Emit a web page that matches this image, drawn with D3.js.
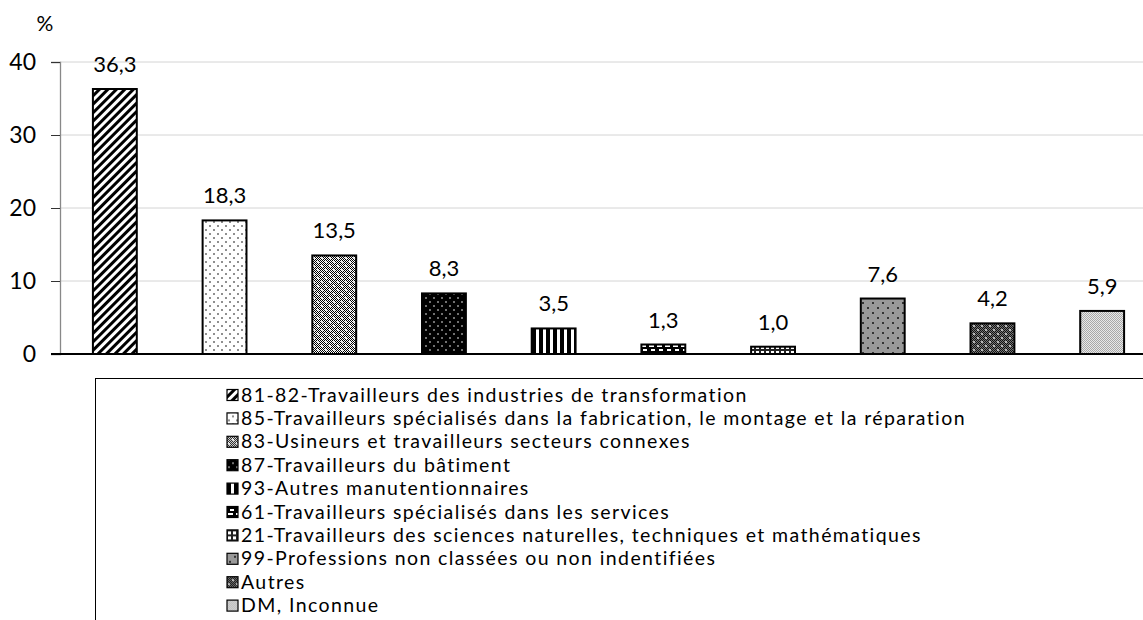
<!DOCTYPE html>
<html>
<head>
<meta charset="utf-8">
<script src="https://cdn.jsdelivr.net/npm/d3@7"></script>
<style>
  body { margin: 0; background: #fff; }
  svg { display: block; font-family: Lato, "Open Sans", sans-serif; }
</style>
</head>
<body>
<svg id="chart"></svg>
<script>
const width = 1143;
const height = 620;

const categories = [
  "81-82-Travailleurs des industries de transformation",
  "85-Travailleurs spécialisés dans la fabrication, le montage et la réparation",
  "83-Usineurs et travailleurs secteurs connexes",
  "87-Travailleurs du bâtiment",
  "93-Autres manutentionnaires",
  "61-Travailleurs spécialisés dans les services",
  "21-Travailleurs des sciences naturelles, techniques et mathématiques",
  "99-Professions non classées ou non indentifiées",
  "Autres",
  "DM, Inconnue"
];
const values = [36.3, 18.3, 13.5, 8.3, 3.5, 1.3, 1.0, 7.6, 4.2, 5.9];
const yTicks = [0, 10, 20, 30, 40];

const svg = d3.select("#chart")
  .attr("width", width)
  .attr("height", height);

// fill patterns, one per category
const defs = svg.append("defs");

function pattern(id, w, h) {
  return defs.append("pattern")
    .attr("id", id)
    .attr("patternUnits", "userSpaceOnUse")
    .attr("width", w)
    .attr("height", h);
}

// fine 50% dither used under some of the fills
function dither(id, light, dark) {
  const p = pattern(id, 2, 2);
  p.append("rect").attr("width", 2).attr("height", 2).attr("fill", light);
  p.append("rect").attr("width", 1).attr("height", 1).attr("fill", dark);
  p.append("rect").attr("x", 1).attr("y", 1).attr("width", 1).attr("height", 1).attr("fill", dark);
}
dither("checker", "#fff", "#000");
dither("checkerLight", "#e8e8e8", "#a8a8a8");
dither("checkerDark", "#777", "#111");

function dots(p, color, r) {
  [[2, 2], [6, 6]].forEach(([cx, cy]) => {
    p.append("circle").attr("cx", cx).attr("cy", cy).attr("r", r).attr("fill", color);
  });
}

// 0: wide diagonal stripes
const p0 = pattern("p0", 6, 6).attr("patternTransform", "rotate(45)");
p0.append("rect").attr("width", 6).attr("height", 6).attr("fill", "#fff");
p0.append("rect").attr("width", 3).attr("height", 6).attr("fill", "#000");

// 1: white with sparse dots
const p1 = pattern("p1", 8, 8);
p1.append("rect").attr("width", 8).attr("height", 8).attr("fill", "#fff");
dots(p1, "#000", 0.8);

// 2: gray dither with white dots
const p2 = pattern("p2", 8, 8);
p2.append("rect").attr("width", 8).attr("height", 8).attr("fill", "url(#checker)");
dots(p2, "#fff", 1.1);

// 3: black with white dots
const p3 = pattern("p3", 8, 8);
p3.append("rect").attr("width", 8).attr("height", 8).attr("fill", "#000");
dots(p3, "#fff", 0.8);

// 4: vertical stripes
const p4 = pattern("p4", 7, 7);
p4.append("rect").attr("width", 7).attr("height", 7).attr("fill", "#fff");
p4.append("rect").attr("width", 4).attr("height", 7).attr("fill", "#000");

// 5: black with white bricks
const p5 = pattern("p5", 8, 8);
p5.append("rect").attr("width", 8).attr("height", 8).attr("fill", "#000");
p5.append("rect").attr("x", 1).attr("y", 1).attr("width", 5).attr("height", 2).attr("fill", "#fff");
p5.append("rect").attr("x", 3).attr("y", 5).attr("width", 4).attr("height", 2).attr("fill", "#fff");

// 6: small grid of white cells
const p6 = pattern("p6", 5, 5);
p6.append("rect").attr("width", 5).attr("height", 5).attr("fill", "#222");
p6.append("rect").attr("x", 1).attr("y", 1).attr("width", 3).attr("height", 3).attr("fill", "#fff");

// 7: medium gray with black dots
const p7 = pattern("p7", 10, 10);
p7.append("rect").attr("width", 10).attr("height", 10).attr("fill", "#999");
[[3, 3], [8, 8]].forEach(([cx, cy]) => {
  p7.append("circle").attr("cx", cx).attr("cy", cy).attr("r", 1).attr("fill", "#111");
});

// 8: dark dither with white dots
const p8 = pattern("p8", 8, 8);
p8.append("rect").attr("width", 8).attr("height", 8).attr("fill", "url(#checkerDark)");
dots(p8, "#ddd", 1);

// 9: light gray dither
const p9 = pattern("p9", 2, 2);
p9.append("rect").attr("width", 2).attr("height", 2).attr("fill", "url(#checkerLight)");

const fills = d3.range(categories.length).map(i => `url(#p${i})`);

// scales
const x = d3.scaleBand()
  .domain(categories)
  .range([60, 1157])
  .paddingInner(0.6)
  .paddingOuter(0.3);

const y = d3.scaleLinear()
  .domain([0, 40])
  .range([354, 62]);

// gridlines
svg.append("g")
  .selectAll("line")
  .data(yTicks.slice(1))
  .join("line")
  .attr("x1", 60)
  .attr("x2", width)
  .attr("y1", d => y(d))
  .attr("y2", d => y(d))
  .attr("stroke", "#d4d4d4")
  .attr("stroke-width", 1);

// y axis
const yAxis = d3.axisLeft(y)
  .tickValues(yTicks)
  .tickSize(9)
  .tickPadding(15)
  .tickFormat(d3.format("d"));

const gy = svg.append("g")
  .attr("transform", "translate(60,0)")
  .call(yAxis);

gy.select(".domain").attr("stroke", "#888").attr("stroke-width", 1.3);
gy.selectAll(".tick line").attr("stroke", "#333");
gy.selectAll(".tick text")
  .attr("font-size", 23)
  .attr("font-family", "Lato, sans-serif")
  .attr("fill", "#000");

svg.append("text")
  .attr("x", 45)
  .attr("y", 31)
  .attr("text-anchor", "middle")
  .attr("font-size", 21)
  .text("%");

// bars
svg.append("g")
  .selectAll("rect")
  .data(values)
  .join("rect")
  .attr("x", (d, i) => x(categories[i]))
  .attr("y", d => y(d))
  .attr("width", x.bandwidth())
  .attr("height", d => y(0) - y(d))
  .attr("fill", (d, i) => fills[i])
  .attr("stroke", "#000")
  .attr("stroke-width", 2);

// value labels
svg.append("g")
  .selectAll("text")
  .data(values)
  .join("text")
  .attr("x", (d, i) => x(categories[i]) + x.bandwidth() / 2)
  .attr("y", d => y(d) - 17)
  .attr("text-anchor", "middle")
  .attr("font-size", 22)
  .text(d => d3.format(".1f")(d).replace(".", ","));

// baseline
svg.append("line")
  .attr("x1", 51)
  .attr("x2", width)
  .attr("y1", y(0))
  .attr("y2", y(0))
  .attr("stroke", "#000")
  .attr("stroke-width", 2);

// legend
svg.append("rect")
  .attr("x", 95.5)
  .attr("y", 378.5)
  .attr("width", 1100)
  .attr("height", 300)
  .attr("fill", "none")
  .attr("stroke", "#000")
  .attr("stroke-width", 1);

const legend = svg.append("g")
  .selectAll("g")
  .data(categories)
  .join("g")
  .attr("transform", (d, i) => `translate(227, ${395 + i * 23.4})`);

legend.append("rect")
  .attr("x", 0)
  .attr("y", -5.5)
  .attr("width", 11)
  .attr("height", 11)
  .attr("fill", (d, i) => fills[i])
  .attr("stroke", "#000")
  .attr("stroke-width", 1.2);

legend.append("text")
  .attr("x", 14)
  .attr("y", 6.5)
  .attr("font-size", 19.5)
  .attr("letter-spacing", 1.4)
  .text(d => d);
</script>
</body>
</html>
